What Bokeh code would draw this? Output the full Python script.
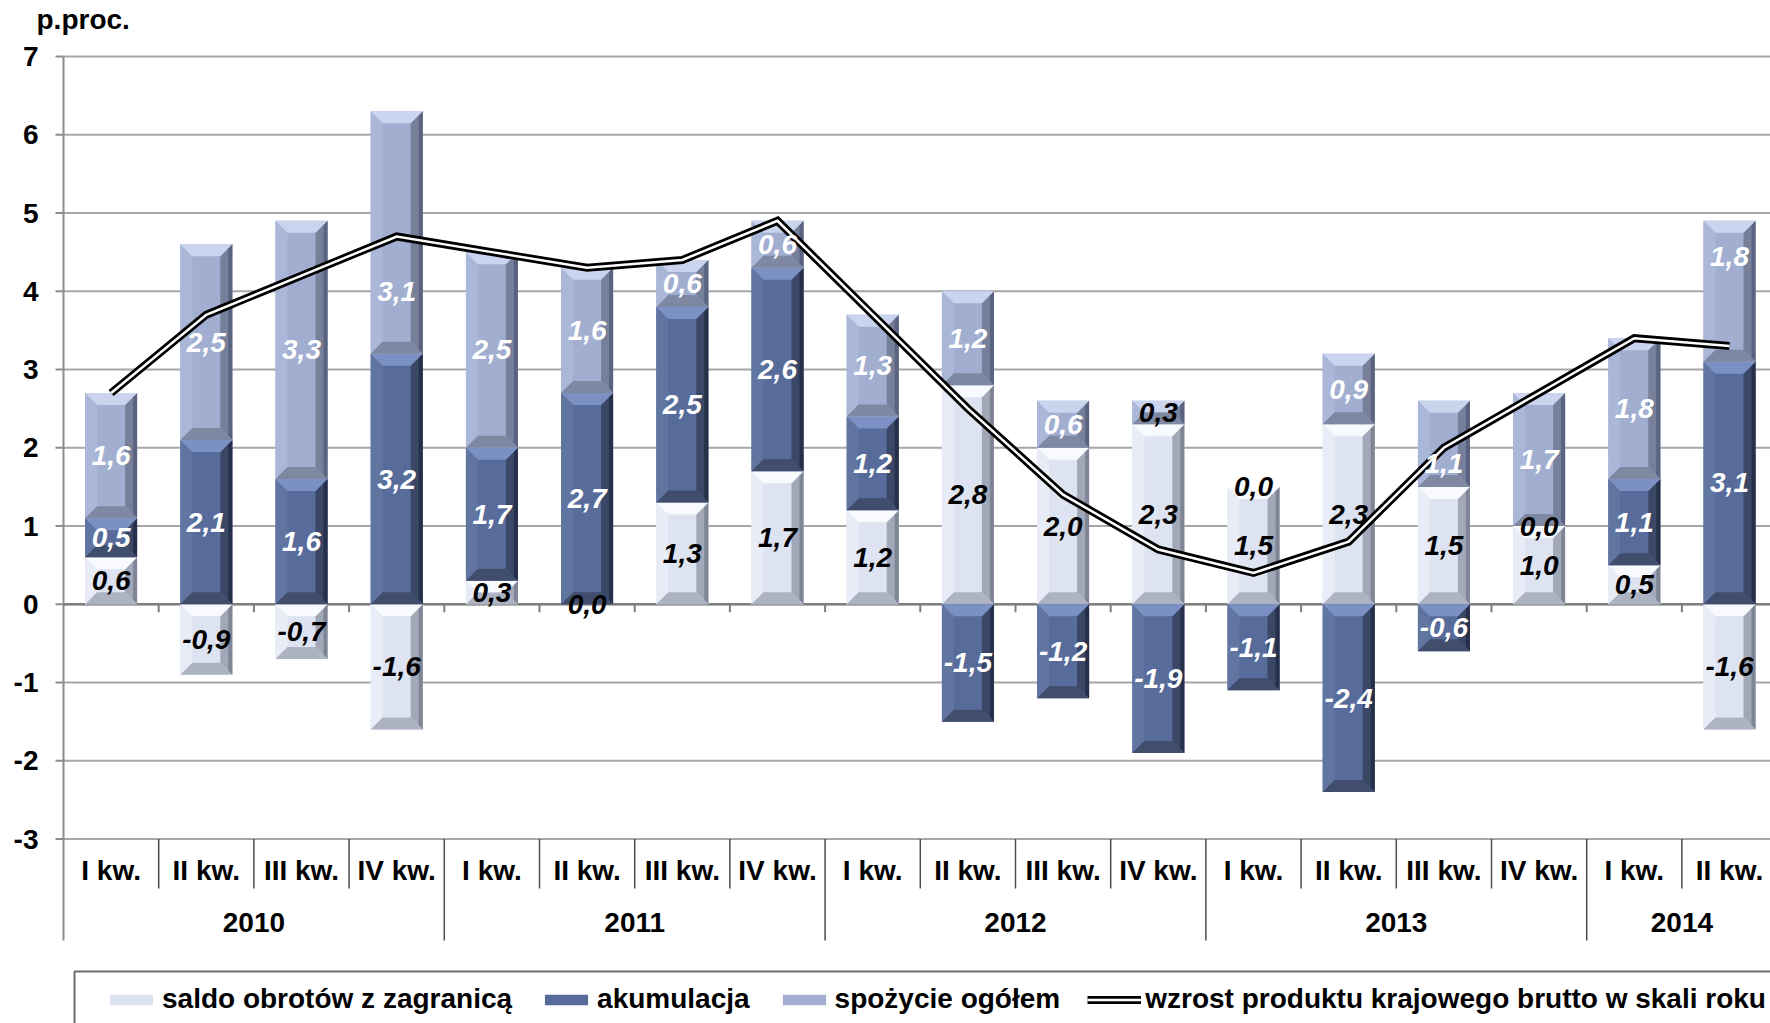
import numpy as np
from bokeh.plotting import figure
from bokeh.models import Range1d, Legend, LegendItem
from bokeh.core.properties import value
from bokeh.embed import file_html
from bokeh.resources import INLINE

# ---------------- data ----------------
years = ["2010", "2011", "2012", "2013", "2014"]
quarter_years = ["2010"] * 4 + ["2011"] * 4 + ["2012"] * 4 + ["2013"] * 4 + ["2014"] * 2
quarters = ["I kw.", "II kw.", "III kw.", "IV kw.",
            "I kw.", "II kw.", "III kw.", "IV kw.",
            "I kw.", "II kw.", "III kw.", "IV kw.",
            "I kw.", "II kw.", "III kw.", "IV kw.",
            "I kw.", "II kw."]
saldo = [0.6, -0.9, -0.7, -1.6, 0.3, 0.0, 1.3, 1.7, 1.2, 2.8, 2.0, 2.3, 1.5, 2.3, 1.5, 1.0, 0.5, -1.6]
akumulacja = [0.5, 2.1, 1.6, 3.2, 1.7, 2.7, 2.5, 2.6, 1.2, -1.5, -1.2, -1.9, -1.1, -2.4, -0.6, 0.0, 1.1, 3.1]
spozycie = [1.6, 2.5, 3.3, 3.1, 2.5, 1.6, 0.6, 0.6, 1.3, 1.2, 0.6, 0.3, 0.0, 0.9, 1.1, 1.7, 1.8, 1.8]
pkb = [2.7, 3.7, 4.2, 4.7, 4.5, 4.3, 4.4, 4.9, 3.7, 2.5, 1.4, 0.7, 0.4, 0.8, 2.0, 2.7, 3.4, 3.3]
y_ticks = [-3, -2, -1, 0, 1, 2, 3, 4, 5, 6, 7]
y_tick_labels = ["-3", "-2", "-1", "0", "1", "2", "3", "4", "5", "6", "7"]
series_names = ["saldo obrotów z zagranicą", "akumulacja", "spożycie ogółem"]
line_name = "wzrost produktu krajowego brutto w skali roku"
unit_label = "p.proc."
# labels drawn in black (series index, point index); saldo labels are always black
dark_labels = {(2, 11), (2, 12), (1, 15)}
# labels moved away from the segment centre (series index, point index): shift in units
label_shift = {(2, 3): -0.75, (2, 14): -0.25, (2, 17): 0.45}

# ---------------- layout (pixels of the page) ----------------
W, H = 1770, 1023
PX_X = 95.2          # pixels per category
PX_Y = 78.25         # pixels per unit
AXIS_X = 63          # page x of the value axis
Y7 = 56              # page y of the "7" gridline


def ypage(py):
    return 7 - (py - Y7) / PX_Y


def xpage(px):
    return (px - AXIS_X) / PX_X


FONT = value("Liberation Sans")

p = figure(width=W, height=H, x_range=Range1d(xpage(0), xpage(W)), y_range=Range1d(ypage(H), ypage(0)),
           x_axis_type=None, y_axis_type=None, toolbar_location=None, output_backend="svg",
           min_border_left=0, min_border_right=0, min_border_top=0, min_border_bottom=0)
p.outline_line_color = None
p.background_fill_color = "white"
p.grid.visible = False

n = len(quarters)
xc = np.arange(n) + 0.5
x_end = xpage(W + 20)
ticks = np.array(y_ticks, dtype=float)

# gridlines
p.segment(x0=np.zeros(len(ticks)), y0=ticks, x1=np.full(len(ticks), x_end), y1=ticks,
          line_color="#a6a6a6", line_width=2)
# value axis line + ticks + labels
p.segment(x0=[0], y0=[7], x1=[0], y1=[ypage(940)], line_color="#8c8c8c", line_width=2)
p.segment(x0=np.full(len(ticks), xpage(AXIS_X - 8)), y0=ticks, x1=np.zeros(len(ticks)), y1=ticks,
          line_color="#8c8c8c", line_width=2)
p.text(x=np.full(len(ticks), xpage(38)), y=ticks, text=y_tick_labels, text_color="black", text_font=FONT,
       text_font_style="bold", text_font_size="28px", text_align="right", text_baseline="middle")
p.text(x=[xpage(36)], y=[ypage(19)], text=[unit_label], text_color="black", text_font=FONT,
       text_font_style="bold", text_font_size="28px", text_align="left", text_baseline="middle")

# zero axis line with ticks
p.segment(x0=[0], y0=[0], x1=[x_end], y1=[0], line_color="#7f7f7f", line_width=2.5)
kk = np.arange(1, n + 1)
p.segment(x0=kk, y0=np.zeros(len(kk)), x1=kk, y1=np.full(len(kk), -8 / PX_Y),
          line_color="#7f7f7f", line_width=2)

# separators of the category axis
sep_low = [ypage(940) if k % 4 == 0 else ypage(888) for k in kk]
p.segment(x0=kk, y0=np.full(len(kk), -3.0), x1=kk, y1=sep_low, line_color="#4d4d4d", line_width=1.5)

# ---------------- stacked bars with bevel ----------------
palettes = [
    dict(base="#dde3f0", top="#f8fafe", left="#e8ecf6", right="#a2a8b7", bottom="#adb3c2", edge="#7f8595"),
    dict(base="#586c9b", top="#7b90c3", left="#60759f", right="#3a4766", bottom="#404d6d", edge="#27304a"),
    dict(base="#a1aed0", top="#cad4ee", left="#aab7d8", right="#76809b", bottom="#7e88a3", edge="#5a6380"),
]
bw = 0.546
bev = 12.0

pos = np.zeros(n)
neg = np.zeros(n)
quad_renderers = []
lab_x, lab_y, lab_t, lab_c = [], [], [], []
for s, vals in enumerate([saldo, akumulacja, spozycie]):
    L, R, B, T = [], [], [], []
    pxs, pys, pcs = [], [], []
    pal = palettes[s]
    for i, v in enumerate(vals):
        if v >= 0:
            b, t = pos[i], pos[i] + v
            pos[i] = t
        else:
            t, b = neg[i], neg[i] + v
            neg[i] = b
        x0, x1 = xc[i] - bw / 2, xc[i] + bw / 2
        lab_x.append(xc[i])
        lab_y.append((b + t) / 2 + label_shift.get((s, i), 0.0))
        lab_t.append(("%.1f" % v).replace(".", ","))
        lab_c.append("black" if (s == 0 or (s, i) in dark_labels) else "white")
        if t - b <= 0:
            continue
        L.append(x0); R.append(x1); B.append(b); T.append(t)
        hpx = (t - b) * PX_Y
        byp = min(bev, hpx / 2.0)
        by = byp / PX_Y
        ix = bev / PX_X
        # left
        pxs.append([x0, x0, x0 + ix, x0 + ix]); pys.append([b, t, t - by, b + by]); pcs.append(pal["left"])
        # right
        pxs.append([x1, x1, x1 - ix, x1 - ix]); pys.append([b, t, t - by, b + by]); pcs.append(pal["right"])
        # right outer edge strip
        e = 4 / PX_X
        pxs.append([x1, x1, x1 - e, x1 - e]); pys.append([b, t, t - by * 0.35, b + by * 0.35]); pcs.append(pal["edge"])
        # top
        pxs.append([x0, x1, x1 - ix, x0 + ix]); pys.append([t, t, t - by, t - by]); pcs.append(pal["top"])
        # bottom
        pxs.append([x0, x1, x1 - ix, x0 + ix]); pys.append([b, b, b + by, b + by]); pcs.append(pal["bottom"])
    r = p.quad(left=L, right=R, bottom=B, top=T, fill_color=pal["base"], line_color=None)
    quad_renderers.append(r)
    p.patches(xs=pxs, ys=pys, fill_color=pcs, line_color=None)

# ---------------- GDP line ----------------
l_black = p.line(xc, pkb, line_color="black", line_width=8, line_join="miter")
l_white = p.line(xc, pkb, line_color="white", line_width=2.5, line_join="miter")

# ---------------- data labels ----------------
p.text(x=lab_x, y=lab_y, text=lab_t, text_color=lab_c, text_font=FONT,
       text_font_style="bold italic", text_font_size="28px",
       text_align="center", text_baseline="middle")

# ---------------- category axis labels ----------------
p.text(x=xc, y=np.full(n, ypage(870)), text=quarters, text_color="black", text_font=FONT,
       text_font_style="bold", text_font_size="28px", text_align="center", text_baseline="middle")
year_x = [float(np.mean([xc[i] for i in range(n) if quarter_years[i] == y])) for y in years]
p.text(x=year_x, y=np.full(len(years), ypage(922)), text=years, text_color="black", text_font=FONT,
       text_font_style="bold", text_font_size="28px", text_align="center", text_baseline="middle")

# ---------------- legend ----------------
p.quad(left=[xpage(74)], right=[xpage(W + 40)], top=[ypage(971)], bottom=[ypage(H + 40)],
       fill_color="white", line_color="#6b6b6b", line_width=2)
items = [LegendItem(label=series_names[k], renderers=[quad_renderers[k]]) for k in range(3)]
items.append(LegendItem(label=line_name, renderers=[l_black, l_white]))
legend = Legend(items=items, orientation="horizontal", location=(104, 8),
                glyph_width=54, glyph_height=13, label_standoff=4, spacing=27, padding=10, margin=0,
                label_text_font="Liberation Sans", label_text_font_style="bold",
                label_text_font_size="28px", label_text_color="black",
                border_line_color=None, background_fill_alpha=0.0)
p.add_layout(legend)

open("out.html", "w").write(file_html(p, INLINE))
